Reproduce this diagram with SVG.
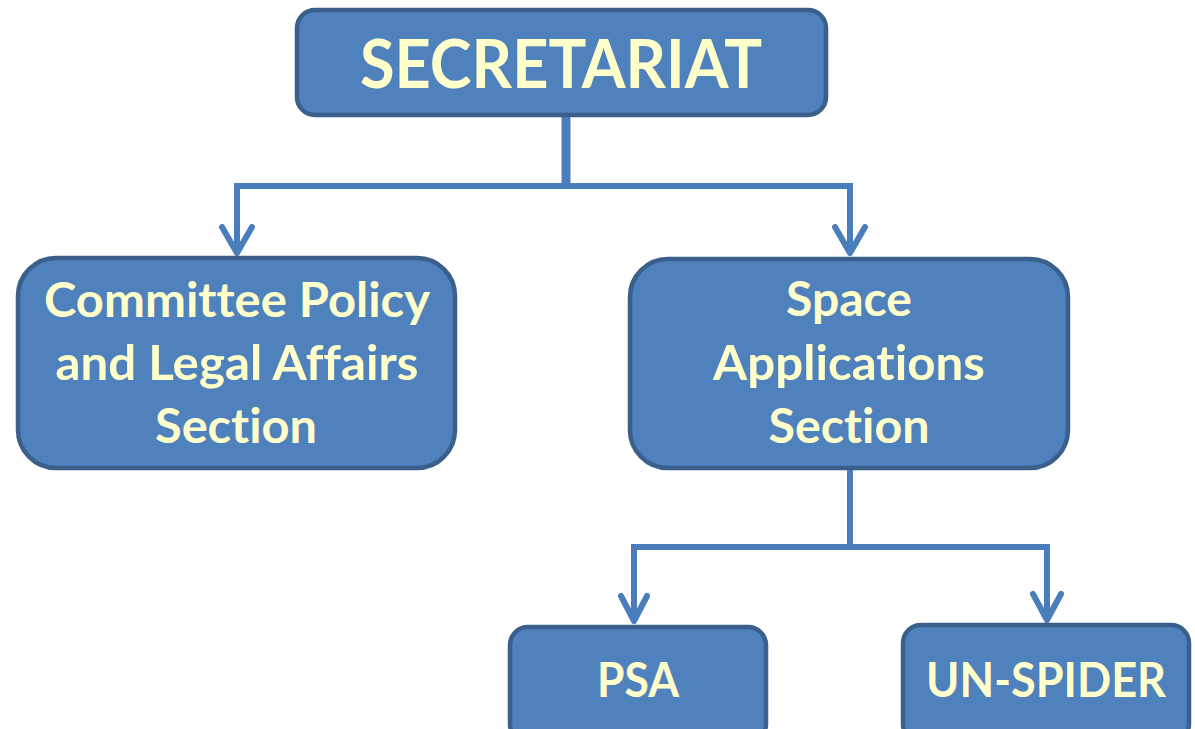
<svg xmlns="http://www.w3.org/2000/svg" width="1195" height="729" viewBox="0 0 1195 729">
<style>
.box{fill:#4F81BD;stroke:#3A5F8B;stroke-width:4.5}
.t{font-family:Lato,"Open Sans","Liberation Sans",sans-serif;font-weight:bold;fill:#FFFFCC;text-anchor:middle;font-variant-ligatures:none;font-feature-settings:"liga" 0,"clig" 0}
.c{fill:none;stroke:#4A7EBB;stroke-width:6;stroke-linecap:round;stroke-linejoin:miter}
.ah{fill:none;stroke:#4A7EBB;stroke-width:6;stroke-linecap:round;stroke-linejoin:round}
</style>
<rect width="1195" height="729" fill="#FFFFFF"/>
<g id="connectors">
<line x1="566" y1="116" x2="566" y2="186" stroke="#4A7EBB" stroke-width="9"/>
<path class="c" d="M237 250 V186 H850 V250"/>
<path class="ah" d="M222 227 L237 253 L252 227"/>
<path class="ah" d="M835 227 L850 253 L865 227"/>
<line x1="850" y1="469" x2="850" y2="547" stroke="#4A7EBB" stroke-width="6"/>
<path class="c" d="M634 618 V547 H1047 V618"/>
<path class="ah" d="M621 596 L634 621 L647 596"/>
<path class="ah" d="M1033 594 L1047 620 L1061 594"/>
</g>
<g id="secretariat">
<rect class="box" x="297" y="10" width="529" height="105" rx="18"/>
<text class="t" x="561" y="88" font-size="67" textLength="402" lengthAdjust="spacingAndGlyphs">SECRETARIAT</text>
</g>
<g id="committee">
<rect class="box" x="18" y="258" width="437" height="210" rx="38"/>
<text class="t" x="237" y="317" font-size="47" textLength="386" lengthAdjust="spacingAndGlyphs">Committee Policy</text>
<text class="t" x="237" y="380" font-size="47" textLength="363" lengthAdjust="spacingAndGlyphs">and Legal Affairs</text>
<text class="t" x="236" y="443" font-size="47" textLength="162" lengthAdjust="spacingAndGlyphs">Section</text>
</g>
<g id="space">
<rect class="box" x="630" y="259" width="438" height="209" rx="38"/>
<text class="t" x="849" y="316" font-size="47" textLength="126" lengthAdjust="spacingAndGlyphs">Space</text>
<text class="t" x="849" y="380" font-size="47" textLength="272" lengthAdjust="spacingAndGlyphs">Applications</text>
<text class="t" x="849" y="443" font-size="47" textLength="161" lengthAdjust="spacingAndGlyphs">Section</text>
</g>
<g id="psa">
<rect class="box" x="510" y="627" width="256" height="115" rx="18"/>
<text class="t" x="638" y="697" font-size="47" textLength="82" lengthAdjust="spacingAndGlyphs">PSA</text>
</g>
<g id="unspider">
<rect class="box" x="903" y="625" width="286" height="117" rx="18"/>
<text class="t" x="1046" y="697" font-size="47" textLength="240" lengthAdjust="spacingAndGlyphs">UN-SPIDER</text>
</g>
</svg>
